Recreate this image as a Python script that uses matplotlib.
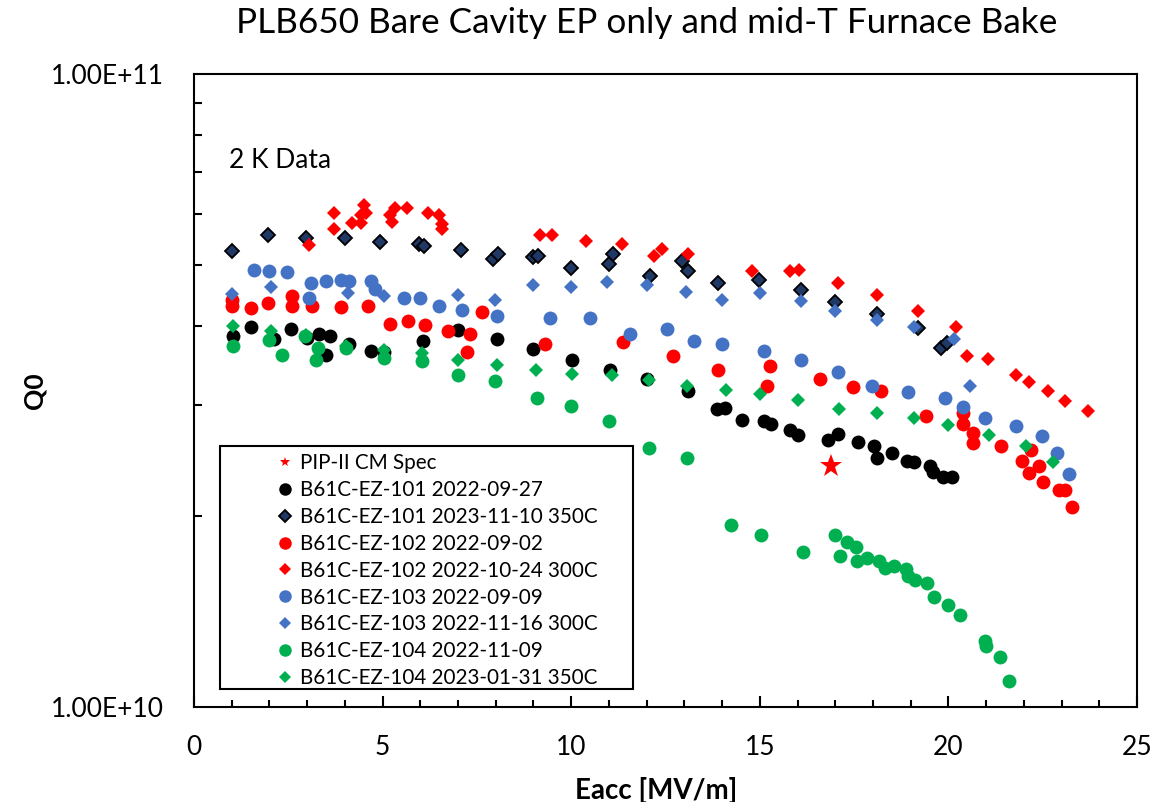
import numpy as np
import matplotlib
matplotlib.use("Agg")
import matplotlib.pyplot as plt
from matplotlib.patches import Rectangle
from matplotlib.ticker import FixedLocator, FixedFormatter, LogLocator, MultipleLocator, NullFormatter

plt.rcParams['font.family'] = ['Lato', 'DejaVu Sans']

# Q0 values are given in units of 1e10
spec_x = [16.9]
spec_q = [2.4]

ez101_a_x = [1.04, 1.52, 2.13, 2.58, 3.0, 3.32, 3.5, 3.6, 4.1, 4.68, 5.03, 6.06, 7.0, 8.03, 9.0, 10.03,
             11.04, 12.0, 13.1, 13.86, 14.07, 14.52, 15.1, 15.3, 15.8, 16.0, 16.8, 17.07, 17.6, 18.03,
             18.1, 18.5, 18.9, 19.1, 19.5, 19.6, 19.86, 20.1]
ez101_a_q = [3.86, 3.99, 3.82, 3.96, 3.83, 3.89, 3.60, 3.86, 3.75, 3.65, 3.64, 3.78, 3.94, 3.82, 3.68, 3.53,
             3.41, 3.30, 3.16, 2.96, 2.97, 2.84, 2.83, 2.80, 2.74, 2.69, 2.64, 2.70, 2.62, 2.58,
             2.47, 2.52, 2.45, 2.44, 2.40, 2.35, 2.31, 2.31]

ez101_b_x = [1.0, 1.97, 2.98, 3.99, 4.92, 5.96, 6.09, 7.07, 7.93, 8.06, 9.0, 9.12, 10.0, 11.0, 11.1,
             12.08, 12.95, 13.1, 13.9, 14.97, 16.1, 17.0, 18.1, 19.2, 19.8, 19.95]
ez101_b_q = [5.26, 5.56, 5.50, 5.50, 5.42, 5.38, 5.34, 5.28, 5.11, 5.20, 5.13, 5.16, 4.94, 5.01, 5.19,
             4.80, 5.07, 4.88, 4.67, 4.73, 4.55, 4.37, 4.17, 3.97, 3.69, 3.76]

ez102_a_x = [1.0, 1.0, 1.52, 1.97, 2.6, 2.6, 3.14, 3.9, 4.6, 5.19, 5.67, 6.12, 6.73, 7.23, 7.31, 7.63,
             9.3, 11.38, 12.7, 13.9, 15.2, 15.27, 16.6, 17.47, 18.2, 19.4, 20.4, 20.4, 20.64, 20.66,
             21.4, 21.94, 22.15, 22.2, 22.4, 22.5, 22.93, 23.1, 23.27]
ez102_a_q = [4.40, 4.30, 4.27, 4.35, 4.46, 4.30, 4.30, 4.29, 4.30, 4.03, 4.07, 4.02, 3.93, 3.64, 3.89, 4.20,
             3.75, 3.77, 3.59, 3.41, 3.22, 3.46, 3.30, 3.20, 3.16, 2.88, 2.91, 2.80, 2.61, 2.71,
             2.58, 2.45, 2.34, 2.55, 2.40, 2.27, 2.20, 2.20, 2.07]

ez102_b_x = [3.06, 3.72, 3.72, 4.18, 4.44, 4.44, 4.52, 4.57, 5.19, 5.24, 5.32, 5.64, 6.2, 6.5, 6.57, 6.57,
             9.18, 9.5, 10.4, 11.35, 12.2, 12.4, 13.1, 14.8, 15.8, 16.04, 17.07, 18.1, 19.2, 20.2,
             20.5, 21.06, 21.8, 22.15, 22.65, 23.1, 23.7]
ez102_b_q = [5.36, 6.04, 5.68, 5.81, 5.98, 5.81, 6.20, 6.04, 5.98, 5.83, 6.15, 6.15, 6.04, 5.98, 5.79, 5.68,
             5.57, 5.57, 5.44, 5.38, 5.16, 5.30, 5.20, 4.88, 4.88, 4.91, 4.68, 4.48, 4.23, 3.99,
             3.59, 3.55, 3.35, 3.26, 3.16, 3.04, 2.94]

ez103_a_x = [1.6, 2.0, 2.47, 3.06, 3.1, 3.5, 3.9, 4.12, 4.7, 4.8, 5.58, 5.98, 6.5, 7.1, 8.03, 9.44,
             10.5, 11.57, 12.53, 13.25, 14.0, 15.1, 16.1, 17.07, 17.98, 18.94, 19.9, 20.4, 20.96,
             21.8, 22.47, 22.87, 23.2]
ez103_a_q = [4.91, 4.88, 4.87, 4.43, 4.68, 4.71, 4.73, 4.71, 4.71, 4.57, 4.43, 4.43, 4.30, 4.24, 4.15, 4.12,
             4.11, 3.89, 3.95, 3.78, 3.75, 3.65, 3.53, 3.38, 3.22, 3.15, 3.08, 2.98, 2.86,
             2.78, 2.68, 2.52, 2.33]

ez103_b_x = [1.0, 2.05, 4.07, 4.12, 5.05, 7.0, 7.98, 9.0, 10.0, 10.96, 12.0, 13.05, 14.0, 15.0, 16.1,
             17.0, 18.1, 19.1, 20.15, 20.57]
ez103_b_q = [4.50, 4.61, 4.51, 4.68, 4.46, 4.48, 4.40, 4.65, 4.61, 4.70, 4.65, 4.53, 4.40, 4.51, 4.38,
             4.23, 4.09, 3.99, 3.82, 3.22]

ez104_a_x = [1.04, 2.0, 2.34, 2.93, 3.24, 3.3, 4.04, 5.05, 6.04, 7.0, 7.98, 9.1, 10.0, 11.0, 12.05, 13.08,
             14.23, 15.03, 16.14, 17.0, 17.13, 17.3, 17.55, 17.58, 17.85, 18.16, 18.32, 18.56, 18.88,
             18.94, 19.12, 19.44, 19.62, 20.0, 20.32, 20.96, 21.0, 21.36, 21.6]
ez104_a_q = [3.72, 3.80, 3.60, 3.86, 3.53, 3.69, 3.69, 3.56, 3.52, 3.35, 3.27, 3.08, 2.99, 2.83, 2.57, 2.47,
             1.94, 1.87, 1.76, 1.87, 1.73, 1.82, 1.79, 1.70, 1.72, 1.70, 1.66, 1.67, 1.65,
             1.61, 1.59, 1.57, 1.49, 1.45, 1.40, 1.27, 1.25, 1.20, 1.10]

ez104_b_x = [1.04, 2.05, 2.98, 4.04, 5.05, 6.04, 7.0, 8.03, 9.07, 10.03, 11.09, 12.05, 13.06, 14.1, 15.0,
             16.0, 17.1, 18.1, 19.1, 20.0, 21.07, 22.05, 22.77]
ez104_b_q = [4.00, 3.93, 3.87, 3.72, 3.67, 3.63, 3.53, 3.47, 3.41, 3.36, 3.35, 3.29, 3.21, 3.17, 3.12,
             3.05, 2.96, 2.91, 2.86, 2.79, 2.69, 2.58, 2.44]

labels = ["PIP-II CM Spec",
          "B61C-EZ-101 2022-09-27",
          "B61C-EZ-101 2023-11-10 350C",
          "B61C-EZ-102 2022-09-02",
          "B61C-EZ-102 2022-10-24 300C",
          "B61C-EZ-103 2022-09-09",
          "B61C-EZ-103 2022-11-16 300C",
          "B61C-EZ-104 2022-11-09",
          "B61C-EZ-104 2023-01-31 350C"]

xs = [spec_x, ez101_a_x, ez101_b_x, ez102_a_x, ez102_b_x, ez103_a_x, ez103_b_x, ez104_a_x, ez104_b_x]
qs = [spec_q, ez101_a_q, ez101_b_q, ez102_a_q, ez102_b_q, ez103_a_q, ez103_b_q, ez104_a_q, ez104_b_q]

# marker, size, face colour, edge colour, edge width
styles = [("*", 17, "#FF0000", "#FF0000", 0.0),
          ("o", 10, "#000000", "#000000", 0.0),
          ("D", 7.3, "#1F3864", "#000000", 1.3),
          ("o", 10, "#FF0000", "#FF0000", 0.0),
          ("D", 6.8, "#FF0000", "#FF0000", 0.0),
          ("o", 10, "#4472C4", "#4472C4", 0.0),
          ("D", 6.8, "#4472C4", "#4472C4", 0.0),
          ("o", 10, "#00B050", "#00B050", 0.0),
          ("D", 6.8, "#00B050", "#00B050", 0.0)]

fig = plt.figure(figsize=(11.55, 8.02), dpi=100)
ax = fig.add_axes([194 / 1155, 95 / 802, 943 / 1155, 633 / 802])

for i in range(len(xs)):
    m, ms, fc, ec, ew = styles[i]
    ax.plot(xs[i], np.array(qs[i]) * 1e10, linestyle="None", marker=m, markersize=ms,
            markerfacecolor=fc, markeredgecolor=ec, markeredgewidth=ew, label=labels[i],
            zorder=3 if i > 0 else 4)

ax.set_yscale("log")
ax.set_xlim(0, 25)
ax.set_ylim(1e10, 1e11)

ax.xaxis.set_major_locator(MultipleLocator(5))
ax.xaxis.set_minor_locator(MultipleLocator(1))
ax.yaxis.set_major_locator(FixedLocator([1e10, 1e11]))
ax.yaxis.set_major_formatter(FixedFormatter(["1.00E+10", "1.00E+11"]))
ax.yaxis.set_minor_locator(LogLocator(base=10, subs=np.arange(2, 10)))
ax.yaxis.set_minor_formatter(NullFormatter())

ax.tick_params(axis="x", which="major", direction="in", length=8, width=1.5, labelsize=19, pad=20)
ax.tick_params(axis="x", which="minor", direction="in", length=5, width=1.5)
ax.tick_params(axis="y", which="major", direction="in", length=0, labelsize=19, pad=22)
ax.tick_params(axis="y", which="minor", direction="in", length=6, width=1.5)
for s in ax.spines.values():
    s.set_linewidth(1.5)

ax.set_xlabel("Eacc [MV/m]", fontsize=20, fontweight="bold")
ax.xaxis.set_label_coords(0.49, -0.11)
ax.set_ylabel("Q0", fontsize=19, fontweight="bold")
ax.yaxis.set_label_coords(-0.156, 0.5)

fig.text(647 / 1155, 1 - 23 / 802, "PLB650 Bare Cavity EP only and mid-T Furnace Bake",
         ha="center", va="center", fontsize=25.3)
ax.text(0.037, 0.864, "2 K Data", transform=ax.transAxes, ha="left", va="center", fontsize=19)

leg = ax.legend(loc="upper left", bbox_to_anchor=(0.075, 0.417), frameon=False, fontsize=14.9,
                borderpad=0, handlelength=1.0, handletextpad=0.2, labelspacing=0.33, numpoints=1)
leg.legend_handles[0].set_markersize(7)
for h in leg.legend_handles[1:]:
    h.set_markersize(h.get_markersize() * 0.9)
ax.add_patch(Rectangle((0.0276, 0.0284), 0.438, 0.384, transform=ax.transAxes, fill=False,
                       edgecolor="black", linewidth=1.5, zorder=5))

fig.savefig("out.png", dpi=100)
